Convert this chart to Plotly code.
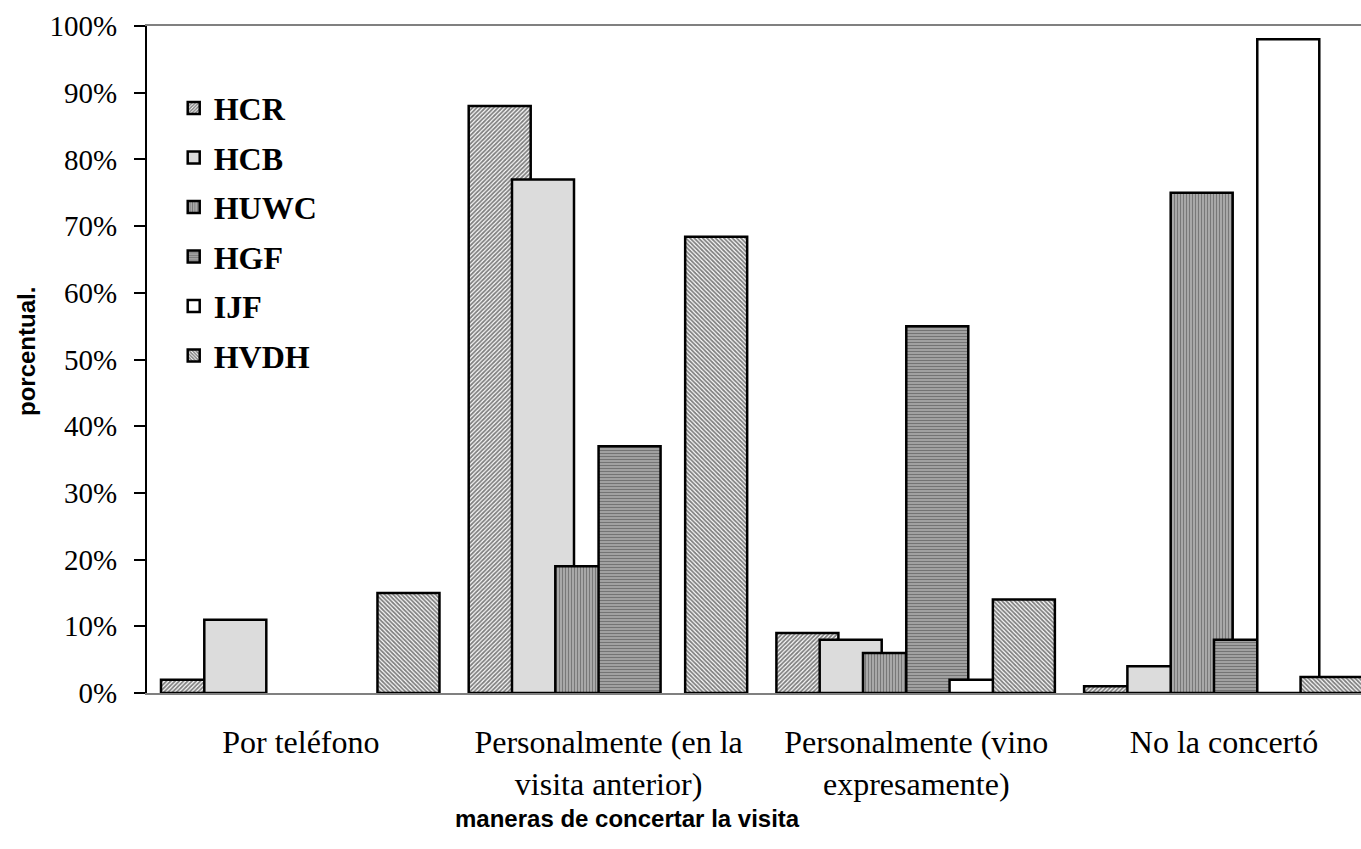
import plotly.graph_objects as go

# Ways the visit was arranged (x categories)
categories = [
    "Por teléfono",
    "Personalmente (en la<br>visita anterior)",
    "Personalmente (vino<br>expresamente)",
    "No la concertó",
]

# Share of patients per hospital, in percent
series_names = ["HCR", "HCB", "HUWC", "HGF", "IJF", "HVDH"]
hcr = [2, 88, 9, 1]
hcb = [11, 77, 8, 4]
huwc = [0, 19, 6, 75]
hgf = [0, 37, 55, 8]
ijf = [0, 0, 2, 98]
hvdh = [15, 68.4, 14, 2.4]
series_values = [hcr, hcb, huwc, hgf, ijf, hvdh]

y_ticks = [0, 10, 20, 30, 40, 50, 60, 70, 80, 90, 100]

# Fill style per series: (pattern shape, foreground, background, size, solidity)
styles = [
    ("/", "#000000", "#ffffff", 3, 0.6),
    ("", "#dcdcdc", "#dcdcdc", 4, 0.3),
    ("|", "#333333", "#bdbdbd", 3, 0.55),
    ("-", "#333333", "#b5b5b5", 3, 0.55),
    ("", "#ffffff", "#ffffff", 4, 0.3),
    ("\\", "#000000", "#ffffff", 3, 0.6),
]

BAR_W = 0.2015      # bar width, in category units
STEP = 0.1407       # shift between neighbouring bars (bars overlap)
FIRST = -0.4545     # offset of the first bar from the category centre

xs = list(range(len(categories)))

fig = go.Figure()
for i, (name, vals) in enumerate(zip(series_names, series_values)):
    shape, fg, bg, size, sol = styles[i]
    marker = dict(color=bg, line=dict(color="#000000", width=2.5))
    if shape:
        marker["pattern"] = dict(shape=shape, fgcolor=fg, bgcolor=bg, size=size,
                                 solidity=sol, fillmode="overlay")
    fig.add_trace(go.Bar(
        name=f"<b>{name}</b>",
        x=xs,
        # a 0% share draws no bar at all (keeps the baseline clean)
        y=[v if v > 0 else None for v in vals],
        width=BAR_W,
        offset=FIRST + i * STEP,
        marker=marker,
        legendgroup=name,
        hoverinfo="skip",
    ))

W, H = 1361, 849
L, R, T, B = 147, 0, 26, 156
plot_w = W - L - R
plot_h = H - T - B
cat_px = 307.7
x_max = -0.5 + plot_w / cat_px

fig.update_layout(
    width=W,
    height=H,
    margin=dict(l=L, r=R, t=T, b=B, pad=0),
    paper_bgcolor="#ffffff",
    plot_bgcolor="#ffffff",
    barmode="overlay",
    showlegend=True,
    legend=dict(
        x=0.022,
        y=0.918,
        xanchor="left",
        yanchor="top",
        bgcolor="rgba(0,0,0,0)",
        font=dict(family="Liberation Serif", size=32, color="#000000"),
        tracegroupgap=4.9,
        itemclick=False,
        itemdoubleclick=False,
    ),
    xaxis=dict(
        range=[-0.5, x_max],
        tickmode="array",
        tickvals=xs,
        ticktext=categories,
        ticks="",
        showgrid=False,
        zeroline=False,
        showline=True,
        linecolor="#808080",
        linewidth=2,
        mirror=True,
        tickfont=dict(family="Liberation Serif", size=32, color="#000000"),
        ticklabelstandoff=20,
    ),
    yaxis=dict(
        range=[0, 100],
        tickmode="array",
        tickvals=y_ticks,
        ticktext=[f"{v}%" for v in y_ticks],
        ticks="outside",
        ticklen=11,
        tickwidth=2,
        tickcolor="#000000",
        showgrid=False,
        zeroline=False,
        showline=True,
        linecolor="#000000",
        linewidth=2,
        tickfont=dict(family="Liberation Serif", size=29, color="#000000"),
        ticklabelstandoff=11,
    ),
    annotations=[
        dict(
            text="<b>maneras de concertar la visita</b>",
            xref="paper", yref="paper",
            x=(627 - L) / plot_w, y=-(818 - (H - B)) / plot_h,
            xanchor="center", yanchor="middle",
            showarrow=False,
            font=dict(family="Liberation Sans", size=24, color="#000000"),
        ),
        dict(
            text="<b>porcentual.</b>",
            xref="paper", yref="paper",
            x=(26 - L) / plot_w, y=(H - B - 352) / plot_h,
            xanchor="center", yanchor="middle",
            textangle=-90,
            showarrow=False,
            font=dict(family="Liberation Sans", size=24, color="#000000"),
        ),
    ],
)

fig.write_html("out.html")
